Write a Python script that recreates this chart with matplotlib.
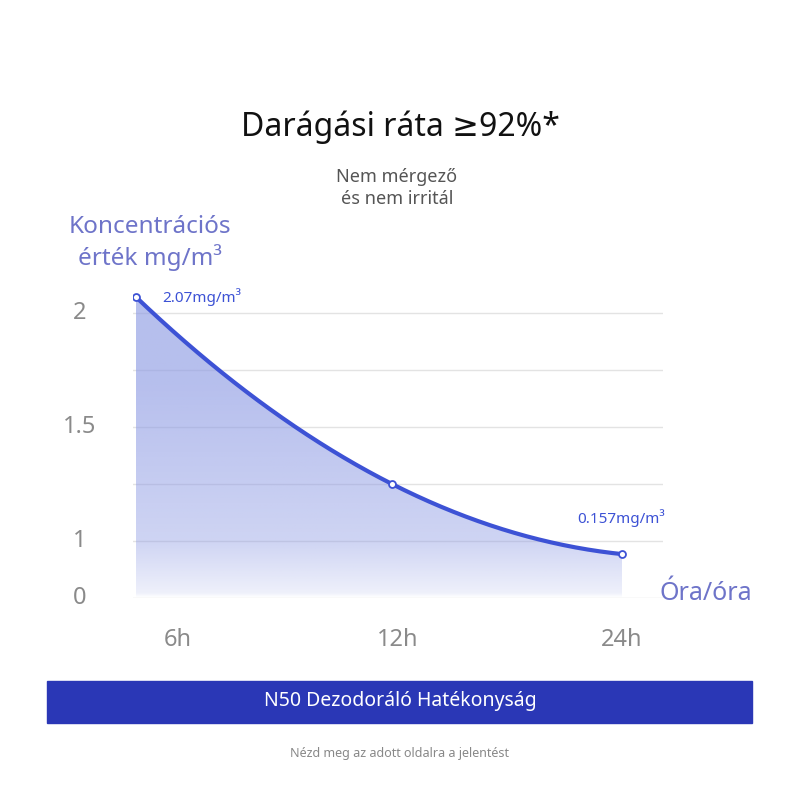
import numpy as np
import matplotlib
matplotlib.use("Agg")
import matplotlib.pyplot as plt
from matplotlib.patches import Rectangle

plt.rcParams['font.family'] = ['Noto Sans', 'DejaVu Sans']

hours_labels = ["6h", "12h", "24h"]
label_x = [178, 398, 622]
point_x = [136, 392, 622]
values = [2.07, 1.25, 0.77]
ytick_vals = [0, 1, 1.5, 2]
ytick_labels = ["0", "1", "1.5", "2"]
grid_vals = [0, 1, 1.25, 1.5, 1.75, 2]
value_labels = ["2.07mg/m³", "0.157mg/m³"]

BLUE = "#3d52d5"
PURP = "#6e74c9"

def fwd(v):
    v = np.asarray(v, dtype=float)
    return np.where(v < 1, v * 0.25, 0.25 + (v - 1))

def inv(u):
    u = np.asarray(u, dtype=float)
    return np.where(u < 0.25, u / 0.25, (u - 0.25) + 1)

fig = plt.figure(figsize=(8, 8), dpi=100)
W = H = 800
top_px, bot_px = 280, 598
ax = fig.add_axes([133 / W, 1 - bot_px / H, 530 / W, (bot_px - top_px) / H])
umax = (bot_px - top_px) / 228.0
ax.set_yscale('function', functions=(fwd, inv))
ax.set_xlim(133, 663)
ax.set_ylim(0, float(inv(umax)))
for s in ax.spines.values():
    s.set_visible(False)
ax.set_xticks([]); ax.set_yticks([])
for g in grid_vals:
    ax.axhline(g, color="#e3e3e3", lw=1, zorder=0)

# smooth curve through points in transformed space
pu = fwd(values)
coef = np.polyfit(point_x, pu, 2)
xs = np.linspace(point_x[0], point_x[-1], 200)
us = np.polyval(coef, xs)
ys = inv(us)

# gradient fill
ny = 300
grad = np.zeros((ny, 2, 4))
uu = np.linspace(umax, 0, ny)
c = np.array([0x8f, 0x9c, 0xe4]) / 255
for i, u in enumerate(uu):
    a = np.clip((u - 0.05) / (1.1 - 0.05), 0, 1)
    grad[i, :, :3] = c
    grad[i, :, 3] = 0.15 + 0.5 * a if u > 0.05 else 0.15 * max(u, 0) / 0.05
img = ax.imshow(grad, extent=[133, 663, 0, float(inv(umax))], aspect='auto', zorder=1,
                origin='upper')
poly = ax.fill_between(xs, 0, ys, color='none')
img.set_clip_path(poly.get_paths()[0], transform=ax.transData)
# imshow on function scale: use transformed extent carefully
ax.plot(xs, ys, color=BLUE, lw=3, zorder=3)
ax.plot(point_x, values, 'o', ms=5, mfc='white', mec=BLUE, mew=1.3, zorder=4)

ax.text(162, 2.07, value_labels[0], color=BLUE, fontsize=11, va='center', ha='left')
ax.text(665, float(inv(fwd(1) + 23 / 228)), value_labels[1], color=BLUE, fontsize=11, va='center', ha='right')

# y tick labels
for v, lab in zip(ytick_vals, ytick_labels):
    ypx = bot_px - float(fwd(v)) * 228
    fig.text(80 / W, 1 - (ypx) / H, lab, color="#8a8a8a", fontsize=17, ha='center', va='center')
for x, lab in zip(label_x, hours_labels):
    fig.text(x / W, 1 - 640 / H, lab, color="#8a8a8a", fontsize=17, ha='center', va='center')

fig.text(400 / W, 1 - 127 / H, "Darágási ráta ≥92%*", fontsize=23, ha='center', va='center', color='#111')
fig.text(397 / W, 1 - 188 / H, "Nem mérgező\nés nem irritál", fontsize=13, ha='center', va='center',
         color='#555', linespacing=1.3)
fig.text(150 / W, 1 - 243 / H, "Koncentrációs\nérték mg/m³", fontsize=17.5, ha='center', va='center',
         color=PURP, linespacing=1.25)
fig.text(706 / W, 1 - 593 / H, "Óra/óra", fontsize=18, ha='center', va='center', color=PURP)

fig.patches.append(Rectangle((47 / W, 1 - 723 / H), 705 / W, 42 / H, transform=fig.transFigure,
                             color="#2a37b6", zorder=0))
fig.text(400 / W, 1 - 701 / H, "N50 Dezodoráló Hatékonyság", fontsize=14, ha='center', va='center',
         color='white')
fig.text(400 / W, 1 - 753 / H, "Nézd meg az adott oldalra a jelentést", fontsize=9, ha='center',
         va='center', color='#888')

fig.savefig("out.png", dpi=100, facecolor='white')
